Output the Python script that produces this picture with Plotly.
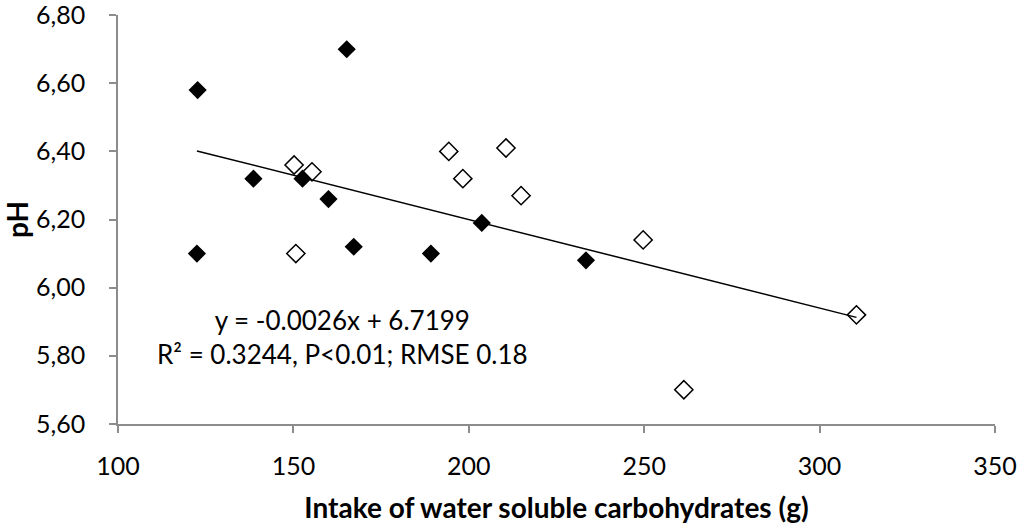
import plotly.graph_objects as go

# WSC intake (g) and rumen pH
filled_x = [122.7, 165.2, 138.6, 152.6, 160.0, 122.5, 167.2, 189.2, 203.7, 233.4]
filled_ph = [6.58, 6.70, 6.32, 6.32, 6.26, 6.10, 6.12, 6.10, 6.19, 6.08]

open_x = [150.2, 155.3, 150.7, 194.3, 198.3, 210.6, 214.9, 249.7, 261.3, 310.5]
open_ph = [6.36, 6.34, 6.10, 6.40, 6.32, 6.41, 6.27, 6.14, 5.70, 5.92]

# linear trend shown on the chart
slope = -0.0026
intercept = 6.7199
eq_text = "y = -0.0026x + 6.7199<br>R² = 0.3244, P<0.01; RMSE 0.18"

x_ticks = [100, 150, 200, 250, 300, 350]
y_ticks = [5.6, 5.8, 6.0, 6.2, 6.4, 6.6, 6.8]

font = "Lato, 'Open Sans', sans-serif"
axis_grey = "#8c8c8c"

all_x = filled_x + open_x
trend_x = [min(all_x), max(all_x)]
trend_y = [slope * v + intercept for v in trend_x]

fig = go.Figure()

fig.add_trace(go.Scatter(
    x=filled_x, y=filled_ph, mode="markers",
    marker=dict(symbol="diamond", size=14, color="black",
                line=dict(color="black", width=0)),
    showlegend=False,
))
fig.add_trace(go.Scatter(
    x=open_x, y=open_ph, mode="markers",
    marker=dict(symbol="diamond-open", size=14, color="black",
                line=dict(color="black", width=1.5)),
    showlegend=False,
))
fig.add_trace(go.Scatter(
    x=trend_x, y=trend_y, mode="lines",
    line=dict(color="black", width=1.5),
    showlegend=False,
))

fig.add_annotation(
    x=164, y=5.856, xref="x", yref="y",
    text=eq_text, showarrow=False, align="center",
    font=dict(family=font, size=26, color="black"),
)

fig.update_layout(
    width=1021, height=527,
    margin=dict(l=118, r=26, t=15, b=103),
    paper_bgcolor="white", plot_bgcolor="white",
    separators=",.",
    font=dict(family=font, color="black"),
    xaxis=dict(
        range=[100, 350], tickvals=x_ticks, automargin=False,
        showline=True, linecolor=axis_grey, linewidth=1.5,
        ticks="outside", ticklen=7, tickcolor=axis_grey, tickwidth=1.5,
        showgrid=False, zeroline=False,
        ticklabelstandoff=12, ticklabeloverflow="allow",
        tickfont=dict(family=font, size=25, color="black"),
        title=dict(text="<b>Intake of water soluble carbohydrates (g)</b>",
                   font=dict(family=font, size=28, color="black"), standoff=20),
    ),
    yaxis=dict(
        range=[5.5995, 6.8005], tickvals=y_ticks, tickformat=".2f",
        automargin=False,
        showline=True, linecolor=axis_grey, linewidth=1.5,
        ticks="outside", ticklen=7, tickcolor=axis_grey, tickwidth=1.5,
        showgrid=False, zeroline=False,
        ticklabelstandoff=19, ticklabeloverflow="allow",
        tickfont=dict(family=font, size=25, color="black"),
        title=dict(text="<b>pH</b>",
                   font=dict(family=font, size=28, color="black"), standoff=0),
    ),
)

# the page's default body margin shifts the chart; drop it
fig.write_html("out.html", config={"displayModeBar": False},
               post_script="document.body.style.margin='0';")
